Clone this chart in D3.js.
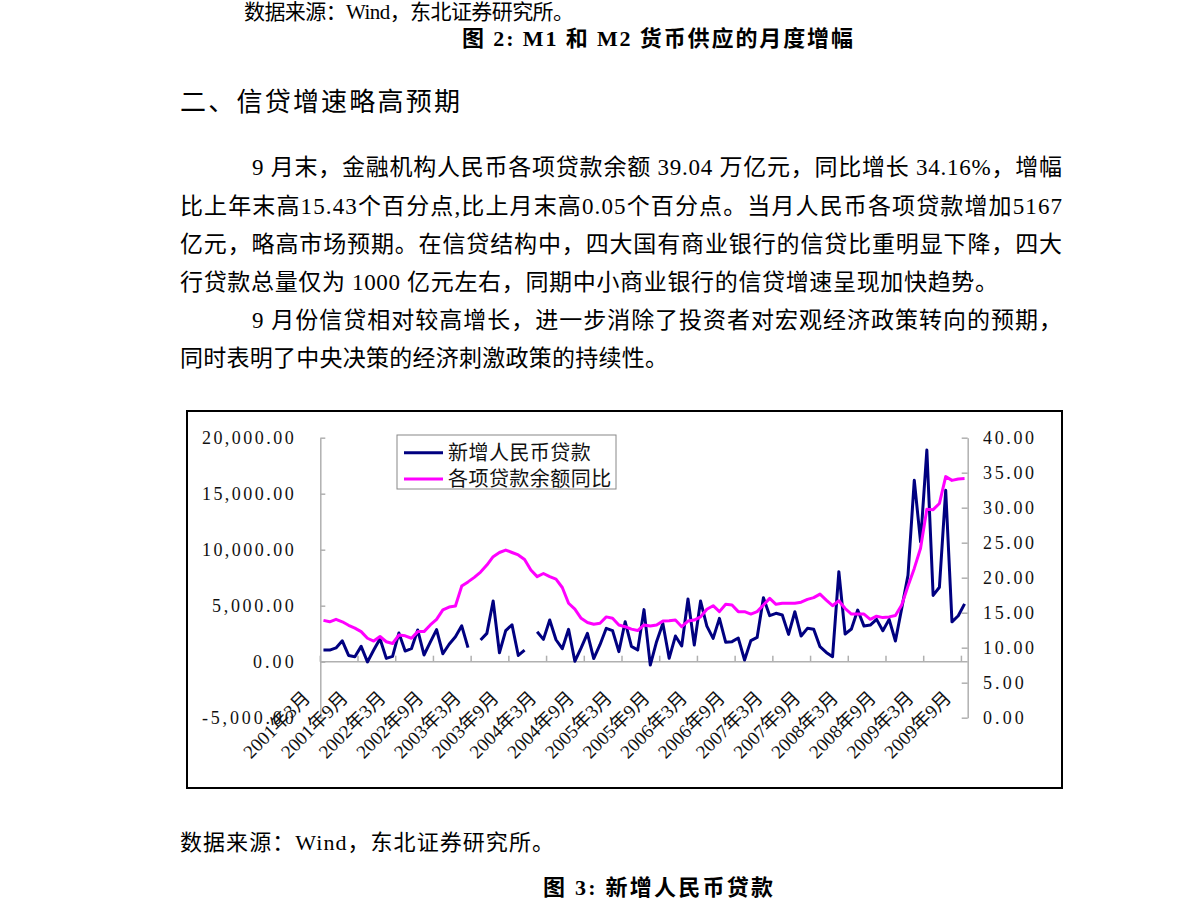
<!DOCTYPE html>
<html><head><meta charset="utf-8">
<script src="https://cdn.jsdelivr.net/npm/d3@7"></script>
<style>html,body{margin:0;padding:0;background:#fff;} svg{display:block}</style>
</head><body>
<svg id="page" width="1191" height="922"></svg>
<script>
// ---------- data ----------
const months = ("2001-03 2001-04 2001-05 2001-06 2001-07 2001-08 2001-09 2001-10 2001-11 2001-12 " +
 "2002-01 2002-02 2002-03 2002-04 2002-05 2002-06 2002-07 2002-08 2002-09 2002-10 2002-11 2002-12 " +
 "2003-01 2003-02 2003-03 2003-04 2003-05 2003-06 2003-07 2003-08 2003-09 2003-10 2003-11 2003-12 " +
 "2004-01 2004-02 2004-03 2004-04 2004-05 2004-06 2004-07 2004-08 2004-09 2004-10 2004-11 2004-12 " +
 "2005-01 2005-02 2005-03 2005-04 2005-05 2005-06 2005-07 2005-08 2005-09 2005-10 2005-11 2005-12 " +
 "2006-01 2006-02 2006-03 2006-04 2006-05 2006-06 2006-07 2006-08 2006-09 2006-10 2006-11 2006-12 " +
 "2007-01 2007-02 2007-03 2007-04 2007-05 2007-06 2007-07 2007-08 2007-09 2007-10 2007-11 2007-12 " +
 "2008-01 2008-02 2008-03 2008-04 2008-05 2008-06 2008-07 2008-08 2008-09 2008-10 2008-11 2008-12 " +
 "2009-01 2009-02 2009-03 2009-04 2009-05 2009-06 2009-07 2009-08 2009-09").split(" ");

// 新增人民币贷款 (亿元), left axis
const newLoans = [
 1040,1040,1230,1860,560,450,1370,-20,1040,2050,
 300,480,2560,950,1160,2830,600,1750,2860,710,1560,2230,
 3200,1260,null,1930,2530,5420,800,2770,3300,560,1040,null,
 2680,1990,3720,1960,1160,2890,40,1230,2530,280,1520,2980,
 2770,900,3570,1370,1040,4650,-300,1790,3420,300,2290,1400,
 5600,1490,5420,3180,2080,3870,1730,1790,2110,150,1880,2170,
 5710,4110,4320,4170,2440,4460,2290,2980,2890,1340,830,450,
 8034,2470,2920,4610,3180,3270,3780,2770,3780,1850,4760,7718,
 16200,10700,18900,5918,6645,15304,3559,4104,5167];

// 各项贷款余额同比 (%), right axis
const loanGrowth = [
 13.9,13.7,14.05,13.7,13.2,12.8,12.3,11.35,10.95,11.6,
 10.85,10.6,11.8,11.7,11.35,12.3,12.3,13.25,14.05,15.4,15.8,15.95,
 18.8,19.4,20.05,20.8,21.8,23.0,23.6,23.95,23.6,23.25,22.6,21.1,
 20.15,20.6,20.15,19.8,18.6,16.35,15.5,14.2,13.6,13.35,13.5,14.4,
 14.2,13.25,13.0,12.65,12.45,13.25,13.1,13.25,13.8,13.85,13.95,13.0,
 13.8,13.95,14.4,15.5,16.0,15.15,16.2,16.1,15.15,15.15,14.8,15.15,
 16.1,17.05,16.2,16.35,16.35,16.35,16.5,16.9,17.15,17.65,16.8,16.0,
 16.7,15.6,14.8,14.8,14.8,14.05,14.5,14.3,14.4,14.6,16.1,18.8,
 21.33,24.2,29.78,29.72,30.6,34.44,33.9,34.11,34.16];

const leftTicks = [-5000, 0, 5000, 10000, 15000, 20000];
const leftTickLabels = ["-5,000.00", "0.00", "5,000.00", "10,000.00", "15,000.00", "20,000.00"];
const rightTicks = [0, 5, 10, 15, 20, 25, 30, 35, 40];
const rightTickLabels = ["0.00", "5.00", "10.00", "15.00", "20.00", "25.00", "30.00", "35.00", "40.00"];
const xTickMonths = ["2001-03","2001-09","2002-03","2002-09","2003-03","2003-09","2004-03","2004-09","2005-03",
 "2005-09","2006-03","2006-09","2007-03","2007-09","2008-03","2008-09","2009-03","2009-09"];
const xTickLabels = ["2001年3月","2001年9月","2002年3月","2002年9月","2003年3月","2003年9月","2004年3月","2004年9月","2005年3月",
 "2005年9月","2006年3月","2006年9月","2007年3月","2007年9月","2008年3月","2008年9月","2009年3月","2009年9月"];
const seriesNames = ["新增人民币贷款", "各项贷款余额同比"];
const seriesColors = ["#000080", "#ff00ff"];

// ---------- page text ----------
const svg = d3.select("#page");
const FONT = "'Liberation Serif','Noto Sans CJK SC',serif";

const textBlocks = [
 {t:"数据来源：Wind，东北证券研究所。", x:244, y:19, s:21, w:330, b:false},
 {t:"图 2:  M1 和 M2 货币供应的月度增幅", x:462, y:46, s:22, w:391, b:true},
 {t:"二、信贷增速略高预期", x:180, y:111, s:26, w:280, b:false},
 {t:"9 月末，金融机构人民币各项贷款余额 39.04 万亿元，同比增长 34.16%，增幅", x:252, y:175, s:23, w:810, b:false},
 {t:"比上年末高15.43个百分点,比上月末高0.05个百分点。当月人民币各项贷款增加5167", x:180, y:214, s:23, w:882, b:false},
 {t:"亿元，略高市场预期。在信贷结构中，四大国有商业银行的信贷比重明显下降，四大", x:180, y:252, s:23, w:882, b:false},
 {t:"行贷款总量仅为 1000 亿元左右，同期中小商业银行的信贷增速呈现加快趋势。", x:180, y:290, s:23, w:818, b:false},
 {t:"9 月份信贷相对较高增长，进一步消除了投资者对宏观经济政策转向的预期，", x:252, y:328, s:23, w:810, b:false},
 {t:"同时表明了中央决策的经济刺激政策的持续性。", x:180, y:366, s:23, w:488, b:false},
 {t:"数据来源：Wind，东北证券研究所。", x:180, y:850, s:22, w:374, b:false},
 {t:"图 3:  新增人民币贷款", x:543, y:895, s:22, w:230, b:true}
];
svg.selectAll("text.body").data(textBlocks).join("text")
  .attr("class","body")
  .attr("x", d => d.x).attr("y", d => d.y)
  .attr("font-family", FONT).attr("font-size", d => d.s)
  .attr("font-weight", d => d.b ? "bold" : "normal")
  .attr("textLength", d => d.w).attr("lengthAdjust", "spacing")
  .attr("fill", "#000")
  .text(d => d.t);

// ---------- chart ----------
svg.append("rect").attr("x",187).attr("y",411).attr("width",875).attr("height",377)
  .attr("fill","#fff").attr("stroke","#000").attr("stroke-width",2);

const plot = {left:320.3, right:967.7, top:437.7, bottom:717.7};
const x = d3.scaleBand().domain(months).range([plot.left, plot.right]).padding(0);
const cx = m => x(m) + x.bandwidth()/2;
const yL = d3.scaleLinear().domain([-5000, 20000]).range([plot.bottom, plot.top]);
const yR = d3.scaleLinear().domain([0, 40]).range([plot.bottom, plot.top]);
const AXIS = "#b0b0b0";

// left axis
const gL = svg.append("g").attr("transform", `translate(${plot.left},0)`)
  .call(d3.axisRight(yL).tickValues(leftTicks).tickSize(5).tickSizeOuter(0).tickFormat(""));
gL.selectAll("path,line").attr("stroke", AXIS).attr("stroke-width", 1.5);

// right axis
const gR = svg.append("g").attr("transform", `translate(${plot.right},0)`)
  .call(d3.axisLeft(yR).tickValues(rightTicks).tickSize(6).tickSizeOuter(0).tickFormat(""));
gR.selectAll("path,line").attr("stroke", AXIS).attr("stroke-width", 1.5);

// category axis at value 0
const y0 = yL(0);
svg.append("line").attr("x1", plot.left).attr("x2", plot.right).attr("y1", y0).attr("y2", y0)
  .attr("stroke", AXIS).attr("stroke-width", 1.5);
svg.selectAll("line.xt").data(xTickMonths).join("line").attr("class","xt")
  .attr("x1", d => x(d)).attr("x2", d => x(d)).attr("y1", y0).attr("y2", y0 - 6)
  .attr("stroke", AXIS).attr("stroke-width", 1.5);

// axis labels
const numFont = "'Liberation Serif',serif";
svg.selectAll("text.yl").data(leftTicks).join("text").attr("class","yl")
  .attr("x", 293.7).attr("y", d => yL(d) + 6)
  .attr("text-anchor","end").attr("font-family", numFont).attr("font-size", 18).attr("fill","#111")
  .attr("textLength", (d,i) => leftTickLabels[i].length * 10.2).attr("lengthAdjust","spacing")
  .text((d,i) => leftTickLabels[i]);
svg.selectAll("text.yr").data(rightTicks).join("text").attr("class","yr")
  .attr("x", 983).attr("y", d => yR(d) + 6)
  .attr("font-family", numFont).attr("font-size", 18).attr("fill","#111")
  .attr("textLength", (d,i) => rightTickLabels[i].length * 10.2).attr("lengthAdjust","spacing")
  .text((d,i) => rightTickLabels[i]);
svg.selectAll("text.xl").data(xTickMonths).join("text").attr("class","xl")
  .attr("transform", d => `translate(${cx(d) - 12},699) rotate(-45)`)
  .attr("text-anchor","end").attr("font-family", FONT).attr("font-size", 19).attr("fill","#111")
  .text((d,i) => xTickLabels[i]);

// series lines
const loanPts = months.map((m,i) => ({m, v:newLoans[i]}));
const growthPts = months.map((m,i) => ({m, v:loanGrowth[i]}));
const lineL = d3.line().defined(d => d.v != null).x(d => cx(d.m)).y(d => yL(d.v));
const lineR = d3.line().defined(d => d.v != null).x(d => cx(d.m)).y(d => yR(d.v));
svg.append("path").datum(loanPts).attr("d", lineL).attr("fill","none")
  .attr("stroke", seriesColors[0]).attr("stroke-width", 3).attr("stroke-linejoin","round");
svg.append("path").datum(growthPts).attr("d", lineR).attr("fill","none")
  .attr("stroke", seriesColors[1]).attr("stroke-width", 3).attr("stroke-linejoin","round");

// legend
const lg = svg.append("g");
lg.append("rect").attr("x",397).attr("y",435).attr("width",219).attr("height",54)
  .attr("fill","#fff").attr("stroke","#888").attr("stroke-width",1);
const rowsY = [452.7, 479];
lg.selectAll("line.lg").data(seriesNames).join("line").attr("class","lg")
  .attr("x1",404).attr("x2",443).attr("y1",(d,i)=>rowsY[i]).attr("y2",(d,i)=>rowsY[i])
  .attr("stroke",(d,i)=>seriesColors[i]).attr("stroke-width",3);
lg.selectAll("text.lg").data(seriesNames).join("text").attr("class","lg")
  .attr("x",448).attr("y",(d,i)=>rowsY[i]+7)
  .attr("font-family", FONT).attr("font-size",20).attr("fill","#111")
  .attr("textLength", d => d.length*20.4).attr("lengthAdjust","spacing")
  .text(d=>d);
</script>
</body></html>
